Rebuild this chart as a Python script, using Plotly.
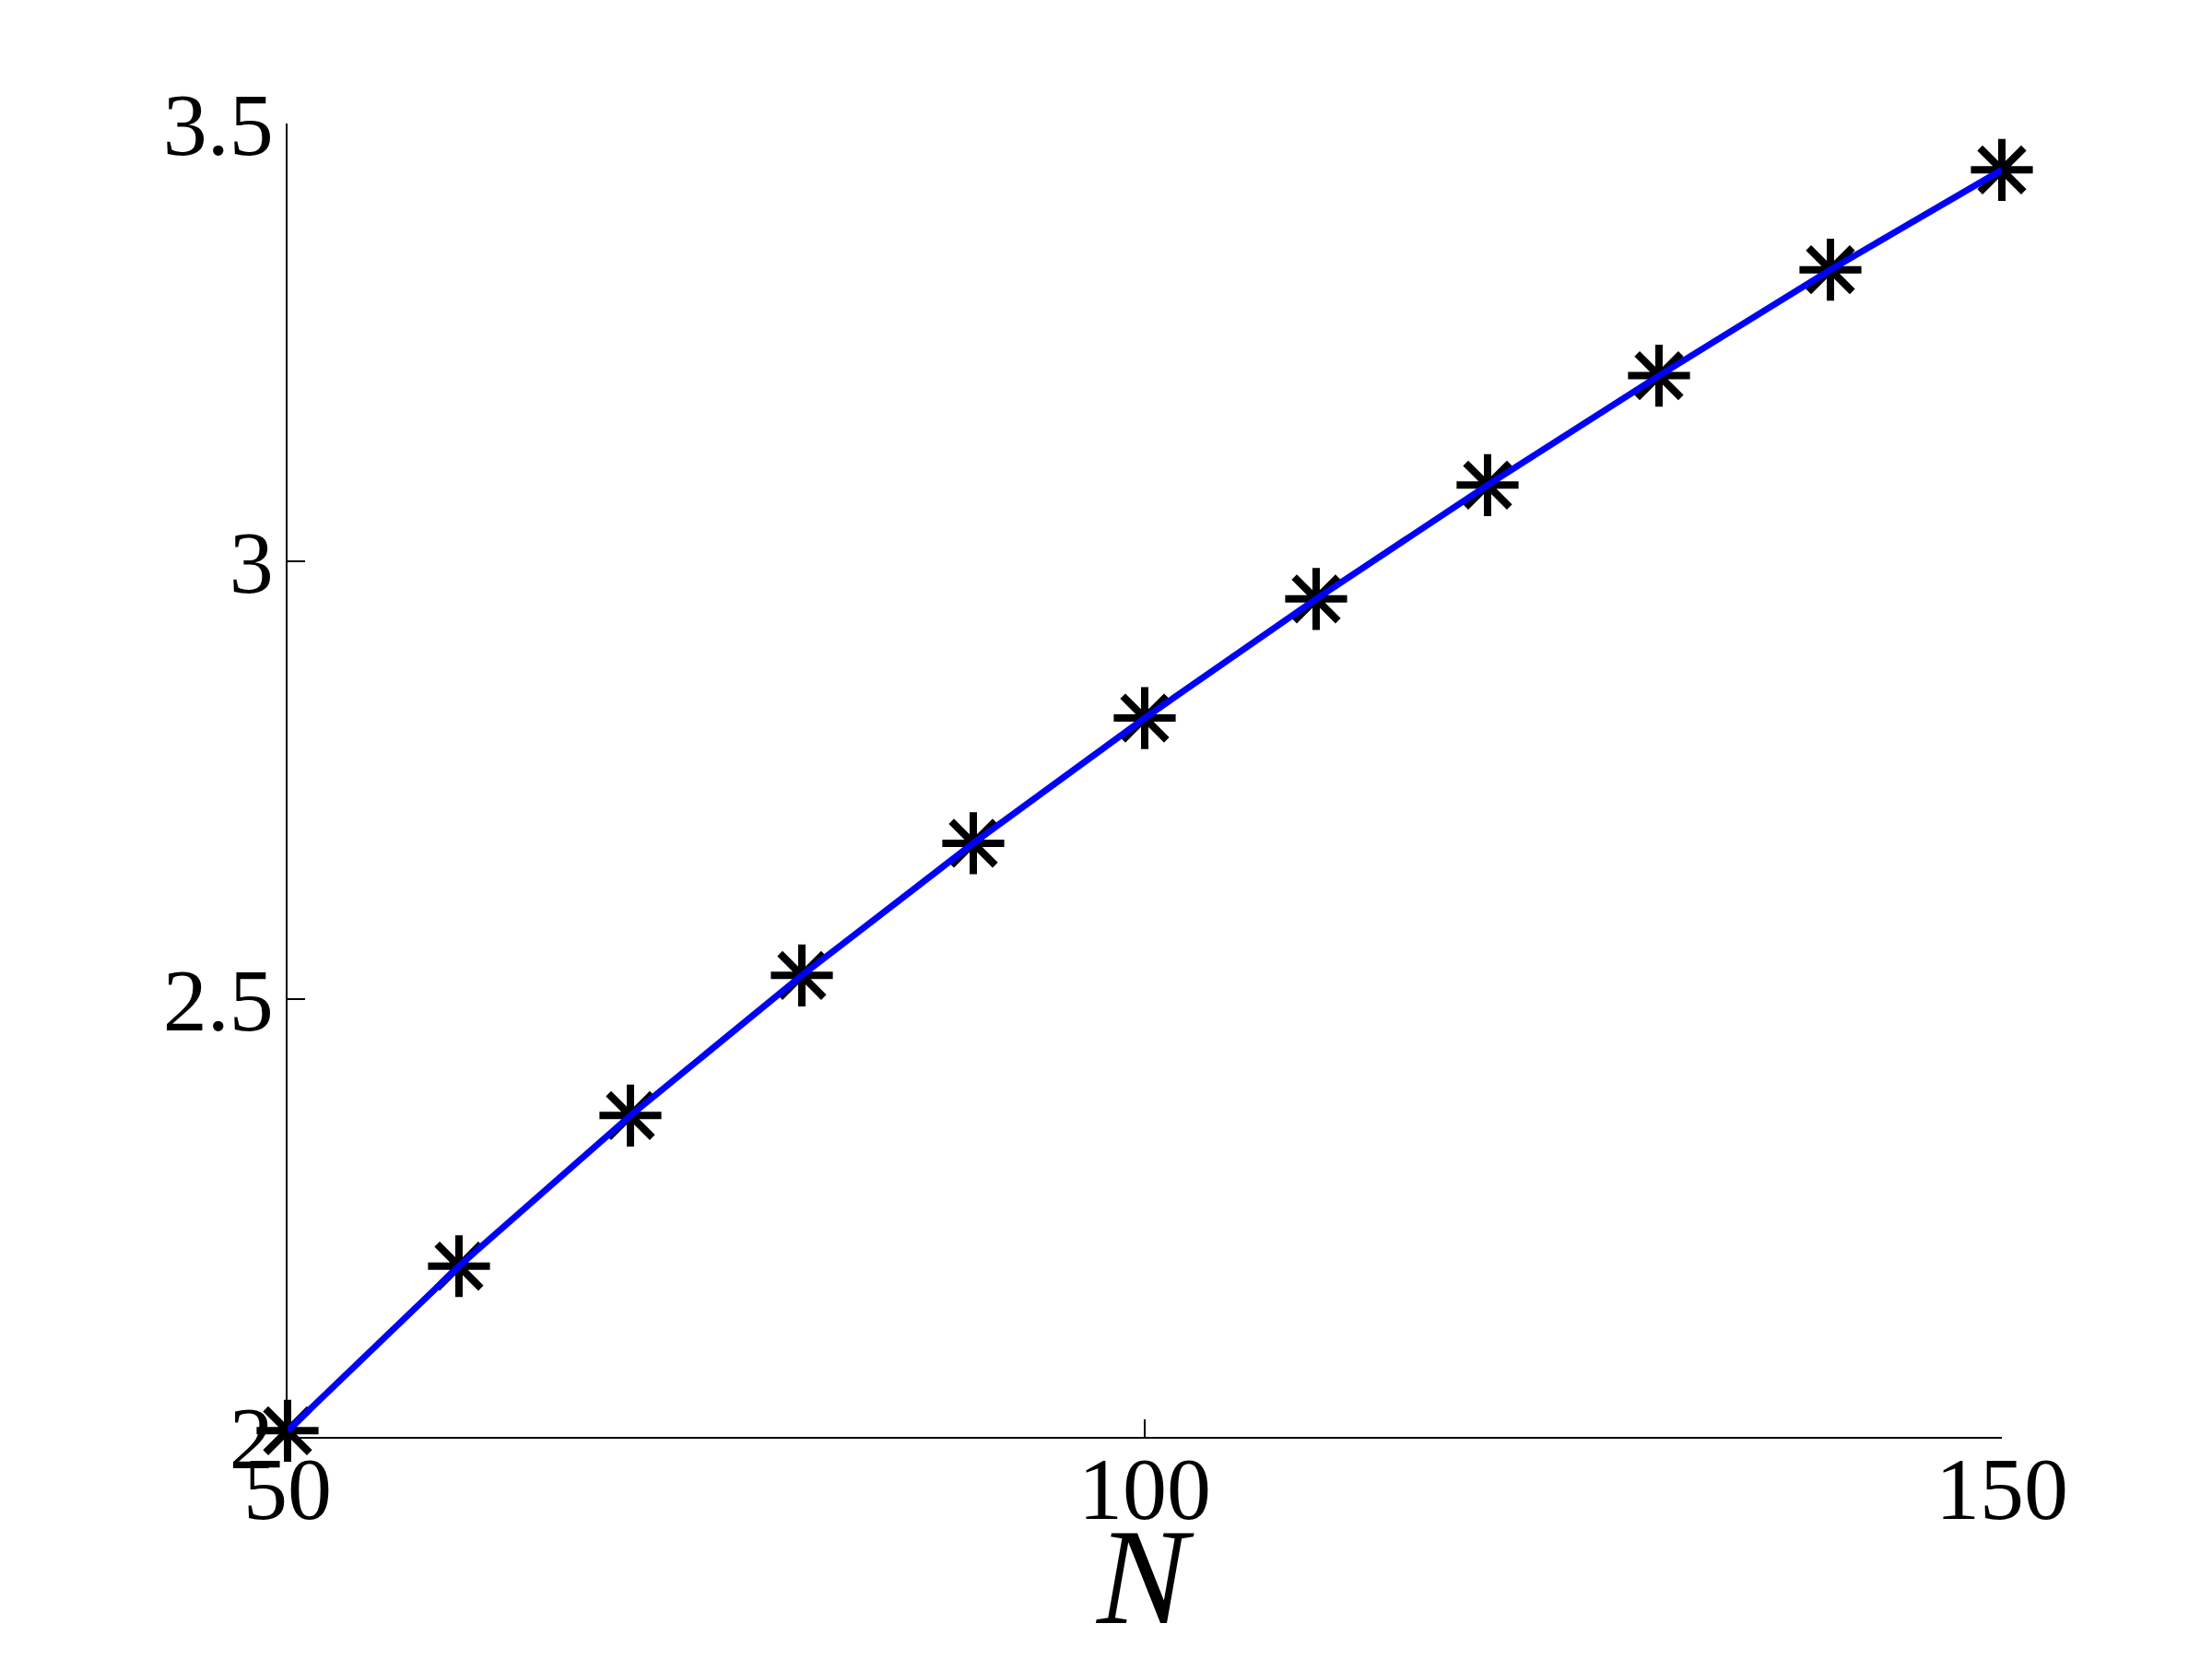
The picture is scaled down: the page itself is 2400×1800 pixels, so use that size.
import plotly.graph_objects as go

# ── data ─────────────────────────────────────────────────────────────
n_values = [50, 60, 70, 80, 90, 100, 110, 120, 130, 140, 150]
y_values = [2.007, 2.195, 2.367, 2.527, 2.678, 2.821, 2.957, 3.087, 3.212, 3.333, 3.447]
x_ticks = [50, 100, 150]
y_ticks = [2, 2.5, 3, 3.5]
y_tick_labels = ["2", "2.5", "3", "3.5"]
x_title = "<i>N</i>"

FONT = "Liberation Serif"

fig = go.Figure()
fig.add_trace(
    go.Scatter(
        x=n_values,
        y=y_values,
        mode="markers",
        marker={
            "symbol": "asterisk-open",
            "size": 56,
            "color": "black",
            "line": {"color": "black", "width": 8},
        },
        cliponaxis=False,
        showlegend=False,
    )
)
fig.add_trace(
    go.Scatter(
        x=n_values,
        y=y_values,
        mode="lines",
        line={"color": "#0000ff", "width": 7},
        cliponaxis=False,
        showlegend=False,
    )
)

axis_common = dict(
    showline=True,
    linecolor="black",
    linewidth=2,
    mirror=False,
    showgrid=False,
    zeroline=False,
    automargin=False,
    ticks="inside",
    ticklen=19,
    tickwidth=2,
    tickcolor="black",
    tickfont={"family": FONT, "size": 96, "color": "black"},
)

fig.update_xaxes(range=[50, 150], tickvals=x_ticks, ticklabelstandoff=-28, **axis_common)
fig.update_yaxes(
    range=[2, 3.5], tickvals=y_ticks, ticktext=y_tick_labels, ticklabelstandoff=-6, **axis_common
)

# axis title placed by hand so it sits just under the tick labels
fig.add_annotation(
    text=x_title,
    xref="paper",
    yref="paper",
    x=0.5,
    y=-0.107,
    xanchor="center",
    yanchor="middle",
    showarrow=False,
    font={"family": FONT, "size": 148, "color": "black"},
)

# page body has an 8px margin, so the margins are trimmed by that much
fig.update_layout(
    width=2400,
    height=1800,
    margin={"l": 304, "r": 236, "t": 126, "b": 249},
    plot_bgcolor="white",
    paper_bgcolor="white",
)

fig.write_html("out.html")
